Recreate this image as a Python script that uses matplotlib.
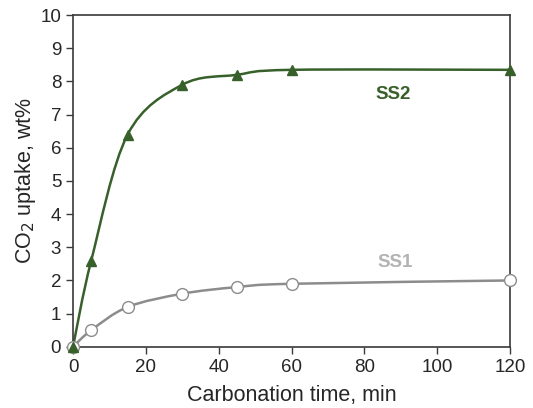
import numpy as np
import matplotlib.pyplot as plt
from matplotlib.path import Path
from matplotlib.patches import PathPatch

plt.rcParams['font.family'] = ['Liberation Sans', 'DejaVu Sans']

time_min = [0, 5, 15, 30, 45, 60, 120]
ss1_uptake = [0, 0.5, 1.2, 1.6, 1.8, 1.9, 2.0]
ss2_uptake = [0, 2.6, 6.4, 7.9, 8.2, 8.35, 8.35]

green = '#38602a'
grey = '#8c8c8c'


def smooth_path(x, y):
    # Bezier segments through the points, like a spreadsheet "smoothed line"
    x = np.asarray(x, float)
    y = np.asarray(y, float)
    n = len(x)
    verts = [(x[0], y[0])]
    codes = [Path.MOVETO]
    for i in range(n - 1):
        p0 = np.array([x[max(i - 1, 0)], y[max(i - 1, 0)]])
        p1 = np.array([x[i], y[i]])
        p2 = np.array([x[i + 1], y[i + 1]])
        p3 = np.array([x[min(i + 2, n - 1)], y[min(i + 2, n - 1)]])
        c1 = p1 + (p2 - p0) / 6.0
        c2 = p2 - (p3 - p1) / 6.0
        verts += [tuple(c1), tuple(c2), tuple(p2)]
        codes += [Path.CURVE4] * 3
    return Path(verts, codes)


fig = plt.figure(figsize=(5.33, 4.08), dpi=100)
ax = fig.add_axes([0.137, 0.150, 0.820, 0.813])

ax.add_patch(PathPatch(smooth_path(time_min, ss2_uptake), fill=False,
                       edgecolor=green, lw=1.8, zorder=2))
ax.add_patch(PathPatch(smooth_path(time_min, ss1_uptake), fill=False,
                       edgecolor=grey, lw=1.8, zorder=2))
ax.plot(time_min, ss1_uptake, 'o', ms=8.5, mfc='white', mec=grey, mew=1.0,
        ls='none', zorder=3, clip_on=False)
ax.plot(time_min, ss2_uptake, '^', ms=7.5, color=green, ls='none',
        zorder=4, clip_on=False)

ax.text(88, 7.6, 'SS2', color=green, fontsize=13.5, fontweight='bold',
        ha='center', va='center')
ax.text(88.5, 2.55, 'SS1', color='#b3b3b3', fontsize=13.5, fontweight='bold',
        ha='center', va='center')

ax.set_xlim(0, 120)
ax.set_ylim(0, 10)
ax.set_xticks(range(0, 121, 20))
ax.set_yticks(range(0, 11))
ax.tick_params(direction='out', length=5, width=1, labelsize=13.5,
               colors='#3a3a3a', labelcolor='#262626')
for s in ax.spines.values():
    s.set_color('#3a3a3a')
    s.set_linewidth(1.2)

ax.set_xlabel('Carbonation time, min', fontsize=15.5, color='#262626', labelpad=7)
ax.set_ylabel('CO$_2$ uptake, wt%', fontsize=15.5, color='#262626', labelpad=2)

fig.savefig('out.png', dpi=100)
